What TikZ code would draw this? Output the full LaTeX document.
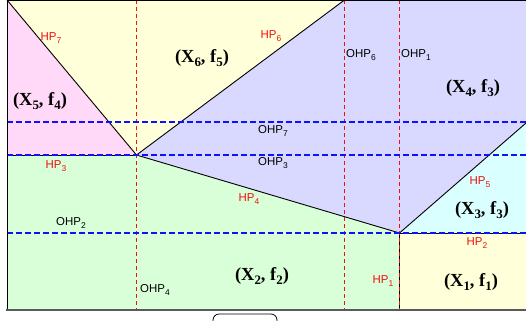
\documentclass[tikz,border=0pt]{standalone}
\usepackage{fontspec}
\setmainfont{Liberation Serif}
\setsansfont{Liberation Sans}
\newcommand{\lowsub}[1]{\raisebox{-0.5ex}{\fontsize{8.5}{9}\selectfont #1}}
\newcommand{\regsub}[1]{\raisebox{-0.55ex}{\fontsize{13}{14}\selectfont #1}}
\definecolor{cpink}{HTML}{FFD9F7}
\definecolor{cyel}{HTML}{FFFFD9}
\definecolor{clav}{HTML}{D9D9FF}
\definecolor{ccyan}{HTML}{D9FFFF}
\definecolor{cgreen}{HTML}{D9FFD9}
\definecolor{hpred}{HTML}{F01010}
\definecolor{ohpblue}{HTML}{1010FF}
\begin{document}
\begin{tikzpicture}[x=1bp,y=-1bp,
  hplab/.style={font=\sffamily\fontsize{11.5}{12}\selectfont, text=hpred, inner sep=0pt},
  ohplab/.style={font=\sffamily\fontsize{11.5}{12}\selectfont, text=black, inner sep=0pt},
  reglab/.style={font=\bfseries\fontsize{18.5}{20}\selectfont, inner sep=0pt},
  hpline/.style={black, line width=0.9bp},
  vdash/.style={hpred, line width=1.3bp, dash pattern=on 4bp off 3bp},
  hdash/.style={ohpblue, line width=1.2bp, dash pattern=on 6bp off 3bp}]
\useasboundingbox (0,0) rectangle (526,320);
% key points
\coordinate (TL) at (7,0);
\coordinate (BL) at (7,310);
\coordinate (TR) at (526,0);
\coordinate (BR) at (526,310);
\coordinate (P) at (136.5,155);
\coordinate (Q) at (399.5,233);
\coordinate (T6) at (344.5,0);
\coordinate (L3) at (7,155);
\coordinate (R5) at (526,123);
\coordinate (R2) at (526,233);
\coordinate (B1) at (399.5,310);
% regions
\fill[cpink] (TL) -- (P) -- (L3) -- cycle;
\fill[cyel] (TL) -- (T6) -- (P) -- cycle;
\fill[clav] (P) -- (T6) -- (TR) -- (R5) -- (Q) -- cycle;
\fill[ccyan] (Q) -- (R5) -- (R2) -- cycle;
\fill[cyel] (Q) -- (R2) -- (BR) -- (B1) -- cycle;
\fill[cgreen] (L3) -- (P) -- (Q) -- (B1) -- (BL) -- cycle;
% hyperplanes
\draw[hpline] (TL) -- (P);
\draw[hpline] (P) -- (T6);
\draw[hpline] (L3) -- (P);
\draw[hpline] (P) -- (Q);
\draw[hpline] (Q) -- (R5);
\draw[hpline] (Q) -- (R2);
\draw[hpline] (Q) -- (B1);
% orthogonal hyperplanes
\coordinate (V4t) at (136.5,0); \coordinate (V4b) at (136.5,310);
\coordinate (V6t) at (344.5,0); \coordinate (V6b) at (344.5,310);
\coordinate (V1t) at (399.5,0); \coordinate (V1b) at (399.5,310);
\coordinate (H7l) at (7,122); \coordinate (H7r) at (526,122);
\coordinate (H3l) at (7,155); \coordinate (H3r) at (526,155);
\coordinate (H2l) at (7,233); \coordinate (H2r) at (526,233);
\draw[vdash] (V4t) -- (V4b);
\draw[vdash] (V6t) -- (V6b);
\draw[vdash] (V1t) -- (V1b);
\draw[hdash] (H7l) -- (H7r);
\draw[hdash] (H3l) -- (H3r);
\draw[hdash] (H2l) -- (H2r);
% frame
\draw[black, line width=1bp] (7,0.5) -- (526,0.5);
\draw[black, line width=1bp] (7.5,0) -- (7.5,310);
\draw[black!65, line width=2bp] (6,310) -- (526,310);
% bottom rounded box (partly visible)
\node[draw=black, line width=0.8bp, rounded corners=6bp, minimum width=64bp, minimum height=14bp, inner sep=0pt] (btn) at (245,321) {};
% labels
\node[hplab] (hp7) at (51,38) {HP\lowsub{7}};
\node[hplab] (hp6) at (271,36) {HP\lowsub{6}};
\node[hplab] (hp3) at (56,166) {HP\lowsub{3}};
\node[hplab] (hp4) at (249,199) {HP\lowsub{4}};
\node[hplab] (hp5) at (480,182) {HP\lowsub{5}};
\node[hplab] (hp2) at (477,243) {HP\lowsub{2}};
\node[hplab] (hp1) at (383,281) {HP\lowsub{1}};
\node[ohplab] (ohp6) at (361,55) {OHP\lowsub{6}};
\node[ohplab] (ohp1) at (416,55) {OHP\lowsub{1}};
\node[ohplab] (ohp7) at (273,131) {OHP\lowsub{7}};
\node[ohplab] (ohp3) at (273,163) {OHP\lowsub{3}};
\node[ohplab] (ohp2) at (71,223) {OHP\lowsub{2}};
\node[ohplab] (ohp4) at (155,290) {OHP\lowsub{4}};
\node[reglab] (r65) at (202,58) {(X\regsub{6}, f\regsub{5})};
\node[reglab] (r54) at (40,101) {(X\regsub{5}, f\regsub{4})};
\node[reglab] (r43) at (473,88) {(X\regsub{4}, f\regsub{3})};
\node[reglab] (r33) at (482,210) {(X\regsub{3}, f\regsub{3})};
\node[reglab] (r22) at (262,276) {(X\regsub{2}, f\regsub{2})};
\node[reglab] (r11) at (471,282) {(X\regsub{1}, f\regsub{1})};
\end{tikzpicture}
\end{document}
